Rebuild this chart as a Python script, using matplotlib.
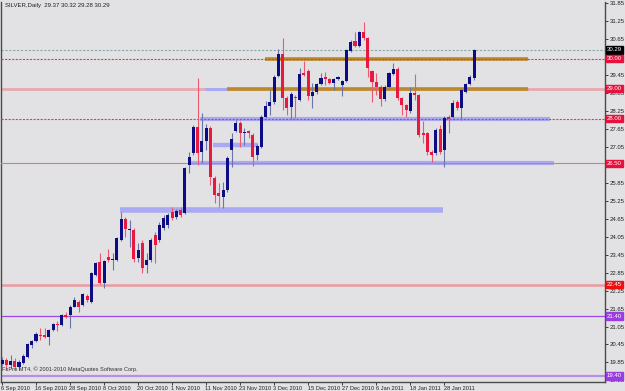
import matplotlib
matplotlib.use("Agg")
import matplotlib.pyplot as plt
import matplotlib.transforms as mtransforms
import numpy as np

plt.rcParams["font.family"] = ["Liberation Sans", "DejaVu Sans"]

# ---------------- data ----------------
opens = [19.80, 19.93, 19.77, 19.90, 19.71, 19.83, 20.03, 20.43, 20.57, 20.77,
         20.77, 20.70, 20.93, 21.13, 21.10, 21.44, 21.44, 21.71, 21.88, 21.77,
         22.07, 21.87, 22.77, 23.21, 22.50, 23.36, 23.27, 23.27, 23.94, 24.63,
         24.28, 24.28, 23.34, 23.84, 23.11, 23.27, 24.11, 23.94, 24.34, 24.44,
         24.88, 24.71, 24.94, 24.85, 26.45, 26.84, 27.73, 26.89, 27.26, 27.67,
         26.02, 25.50, 25.39, 25.61, 26.95, 27.59, 27.86, 27.51, 27.56, 27.45,
         26.78, 27.06, 28.06, 28.43, 28.54, 29.43, 30.15, 28.70, 28.38, 28.72,
         28.62, 29.51, 29.60, 28.76, 28.88, 29.14, 29.38, 29.31, 29.20, 29.31,
         29.12, 29.25, 30.26, 30.59, 30.42, 30.90, 30.68, 29.59, 29.23, 29.06,
         28.65, 29.05, 29.49, 29.65, 28.69, 28.45, 28.25, 28.85, 28.79, 27.52,
         27.52, 26.88, 26.85, 27.65, 26.95, 28.05, 28.05, 28.55, 28.35, 28.89,
         29.15, 29.37]
highs = [20.03, 20.00, 20.10, 20.00, 19.93, 20.13, 20.50, 20.60, 20.87, 21.00,
         21.00, 20.97, 21.17, 21.25, 21.47, 21.55, 21.77, 22.03, 21.94, 22.17,
         22.14, 22.87, 23.21, 23.50, 23.27, 23.63, 23.50, 24.04, 24.89, 24.72,
         24.61, 24.34, 23.84, 23.94, 23.51, 24.01, 24.21, 24.54, 24.78, 24.84,
         25.04, 24.98, 25.04, 26.38, 26.89, 27.78, 29.34, 28.17, 27.82, 27.75,
         26.08, 25.84, 25.89, 26.75, 27.51, 27.95, 27.92, 27.68, 27.62, 27.52,
         27.15, 28.12, 28.59, 28.95, 29.45, 30.31, 30.68, 28.75, 28.89, 28.79,
         29.70, 29.93, 29.65, 29.18, 29.19, 29.51, 29.56, 29.35, 29.35, 29.42,
         29.29, 30.32, 30.62, 30.90, 30.92, 31.23, 30.72, 29.62, 29.51, 29.12,
         29.12, 29.55, 29.86, 29.72, 28.72, 28.49, 29.05, 29.49, 28.82, 27.92,
         27.55, 26.95, 27.68, 27.78, 28.09, 28.12, 28.62, 28.62, 28.99, 29.19,
         29.45, 30.32]
lows = [19.73, 19.60, 19.66, 19.60, 19.60, 19.80, 20.00, 20.33, 20.53, 20.60,
        20.67, 20.43, 20.90, 20.90, 21.07, 21.34, 21.01, 21.70, 21.55, 21.74,
        21.87, 21.84, 22.74, 22.47, 22.33, 23.22, 22.94, 23.24, 23.91, 24.05,
        23.72, 23.21, 23.21, 22.84, 22.84, 23.21, 23.17, 23.87, 24.28, 24.34,
        24.61, 24.64, 24.71, 24.81, 26.17, 26.78, 26.45, 26.50, 26.95, 25.78,
        25.18, 25.05, 25.00, 25.55, 26.39, 27.55, 27.06, 27.12, 27.35, 26.41,
        26.61, 27.02, 28.02, 28.12, 28.49, 29.39, 28.29, 28.12, 27.98, 28.02,
        28.58, 29.42, 28.62, 28.34, 28.82, 29.12, 29.12, 29.15, 28.95, 29.29,
        28.75, 29.22, 30.22, 30.39, 30.39, 30.62, 29.40, 28.56, 28.79, 28.42,
        28.58, 29.02, 29.45, 28.62, 28.12, 28.05, 28.18, 28.62, 27.38, 27.18,
        26.78, 26.55, 26.78, 26.81, 26.38, 27.52, 28.02, 28.28, 27.95, 28.85,
        29.12, 29.28]
closes = [19.93, 19.77, 19.90, 19.70, 19.87, 20.08, 20.47, 20.57, 20.80, 20.73,
          20.70, 20.93, 21.13, 21.09, 21.44, 21.38, 21.71, 21.94, 21.71, 22.14,
          21.94, 22.84, 23.16, 22.49, 23.24, 23.27, 23.31, 24.00, 24.63, 24.30,
          24.30, 23.30, 23.61, 23.01, 23.27, 23.94, 23.77, 24.44, 24.68, 24.78,
          24.68, 24.91, 24.78, 26.34, 26.72, 27.73, 26.86, 27.26, 27.67, 26.06,
          25.45, 25.42, 25.61, 26.67, 27.31, 27.86, 27.51, 27.56, 27.53, 26.70,
          27.09, 28.06, 28.43, 28.54, 29.40, 30.15, 28.68, 28.36, 28.82, 28.67,
          29.49, 29.45, 28.76, 28.88, 29.14, 29.34, 29.32, 29.20, 29.31, 29.38,
          29.25, 30.29, 30.57, 30.43, 30.88, 30.68, 29.68, 29.23, 29.06, 28.66,
          29.05, 29.52, 29.65, 28.69, 28.45, 28.28, 28.85, 28.79, 27.45, 27.45,
          26.88, 26.78, 27.62, 26.88, 28.02, 28.00, 28.52, 28.35, 28.95, 29.15,
          29.39, 30.29]

date_ticks = [0, 8, 16, 24, 32, 40, 48, 56, 64, 72, 80, 88, 96, 104]
date_labels = ["6 Sep 2010", "16 Sep 2010", "28 Sep 2010", "8 Oct 2010",
               "20 Oct 2010", "1 Nov 2010", "11 Nov 2010", "23 Nov 2010",
               "3 Dec 2010", "15 Dec 2010", "27 Dec 2010", "6 Jan 2011",
               "18 Jan 2011", "28 Jan 2011"]

price_ticks = [19.25, 19.85, 20.45, 21.05, 21.65, 22.25, 22.85, 23.45, 24.05,
               24.65, 25.25, 25.85, 26.45, 27.05, 27.65, 28.25, 28.85, 29.45,
               30.05, 30.65, 31.25, 31.85]
# tick labels hidden behind the level boxes in the reference
hidden_ticks = [26.45, 30.05]

# horizontal price levels (full width) and their label-box colours
level_prices = [30.29, 30.00, 29.00, 28.00, 26.50, 22.45, 21.40, 19.40]
level_box_colors = ["#000000", "#e8103c", "#e8103c", "#e8103c", "#e8103c",
                    "#f01010", "#9a3ce0", "#9a3ce0"]

# rectangles drawn on the chart: price, start bar, end bar
gold_band_prices = [30.00, 29.00]
gold_band_start = [61.8, 52.9]
gold_band_end = [123.7, 123.7]
blue_band_prices = [28.00, 27.10, 26.50, 24.93, 29.00]
blue_band_start = [46.6, 49.6, 44.2, 27.7, 47.7]
blue_band_end = [128.9, 60.2, 129.8, 103.7, 52.9]

title = "SILVER,Daily  29.37 30.32 29.28 30.29"
footer = "FxPro MT4, \u00a9 2001-2010 MetaQuotes Software Corp."

# ---------------- figure ----------------
W, H = 625, 391
fig = plt.figure(figsize=(W / 100, H / 100), dpi=100)
bg = "#e2e2e4"
fig.patch.set_facecolor(bg)
ax = fig.add_axes([1 / W, 9 / H, 604 / W, 380 / H])
ax.set_facecolor(bg)

px = 4.253
ax.set_xlim(-1 / px, -1 / px + 604 / px)
ax.set_ylim(19.197, 31.893)

# full width levels
ax.axhline(30.29, color="#8aa8a6", lw=0.8, ls=(0, (2, 1.5)), zorder=1)
ax.axhline(30.00, color="#e83860", lw=0.8, ls=(0, (2, 1.2)), zorder=3)
ax.axhline(29.00, color="#e8a8b0", lw=2.0, zorder=1)
ax.axhline(28.00, color="#e83860", lw=0.8, ls=(0, (2, 1.2)), zorder=3)
ax.axhline(26.50, color="#e07a70", lw=0.8, zorder=3)
ax.axhline(22.45, color="#ec9a9e", lw=1.8, zorder=1)
ax.axhline(21.40, color="#9a48e8", lw=0.9, zorder=1)
ax.axhline(19.40, color="#b690e8", lw=1.6, zorder=1)

# bands
thick = {28.00: 3.0, 27.10: 3.2, 26.50: 3.0, 24.93: 4.0, 29.00: 2.2}
for p, s, e in zip(blue_band_prices, blue_band_start, blue_band_end):
    ax.plot([s, e], [p, p], color="#a9a9f4", lw=thick[p], solid_capstyle="butt", zorder=2)
for p, s, e in zip(gold_band_prices, gold_band_start, gold_band_end):
    ax.plot([s, e], [p, p], color="#b98a2c", lw=2.6, solid_capstyle="butt", zorder=2)
    ax.plot([s, e], [p, p], color="#d8801c", lw=0.8, solid_capstyle="butt", zorder=2)

# candles
idx = np.arange(len(opens))
o = np.array(opens); c = np.array(closes); h = np.array(highs); l = np.array(lows)
bull = c >= o
body_col = np.where(bull, "#0c0c84", "#e8183e")
wick_col = np.where(bull, "#6a76aa", "#ec5a72")
ax.vlines(idx, l, h, colors=wick_col, lw=0.8, zorder=4)
bottom = np.minimum(o, c)
height = np.maximum(np.abs(c - o), 0.04)
ax.bar(idx, height, bottom=bottom, width=0.72, color=body_col, linewidth=0, zorder=5)

# axes styling
ax.spines["top"].set_visible(False)
for sp in ["left", "bottom", "right"]:
    ax.spines[sp].set_color("#4a4a4a")
    ax.spines[sp].set_linewidth(1.0)

fs = 4.3
ax.yaxis.tick_right()
ax.set_yticks(price_ticks)
ax.set_yticklabels(["" if v in hidden_ticks else f"{v:.2f}" for v in price_ticks],
                   fontsize=fs, color="#202020")
ax.tick_params(axis="y", direction="out", length=2, width=0.6, pad=1.2, colors="#202020")

ax.set_xticks(date_ticks)
ax.set_xticklabels(date_labels, fontsize=4.1, color="#202020", ha="left")
ax.tick_params(axis="x", direction="out", length=2, width=0.6, pad=1.2, colors="#202020")
offset = mtransforms.ScaledTranslation(-0.5 / 72, 0, fig.dpi_scale_trans)
for lab in ax.get_xticklabels():
    lab.set_transform(lab.get_transform() + offset)

# price label boxes on the right axis
trans = mtransforms.blended_transform_factory(ax.transAxes, ax.transData)
for p, col in zip(level_prices, level_box_colors):
    ax.text(1.003, p, f"{p:.2f}", transform=trans, fontsize=fs, color="white",
            va="center", ha="left", clip_on=False, zorder=10,
            bbox=dict(boxstyle="square,pad=0.2", facecolor=col, edgecolor=col))

fig.text(5 / W, 1 - 6 / H, title, fontsize=4.3, color="#202020", va="center", ha="left")
ax.text(0.006, 19.63, footer, fontsize=4.1, color="#303030",
        va="center", ha="left", zorder=6)

fig.savefig("out.png", dpi=100, facecolor=bg)
